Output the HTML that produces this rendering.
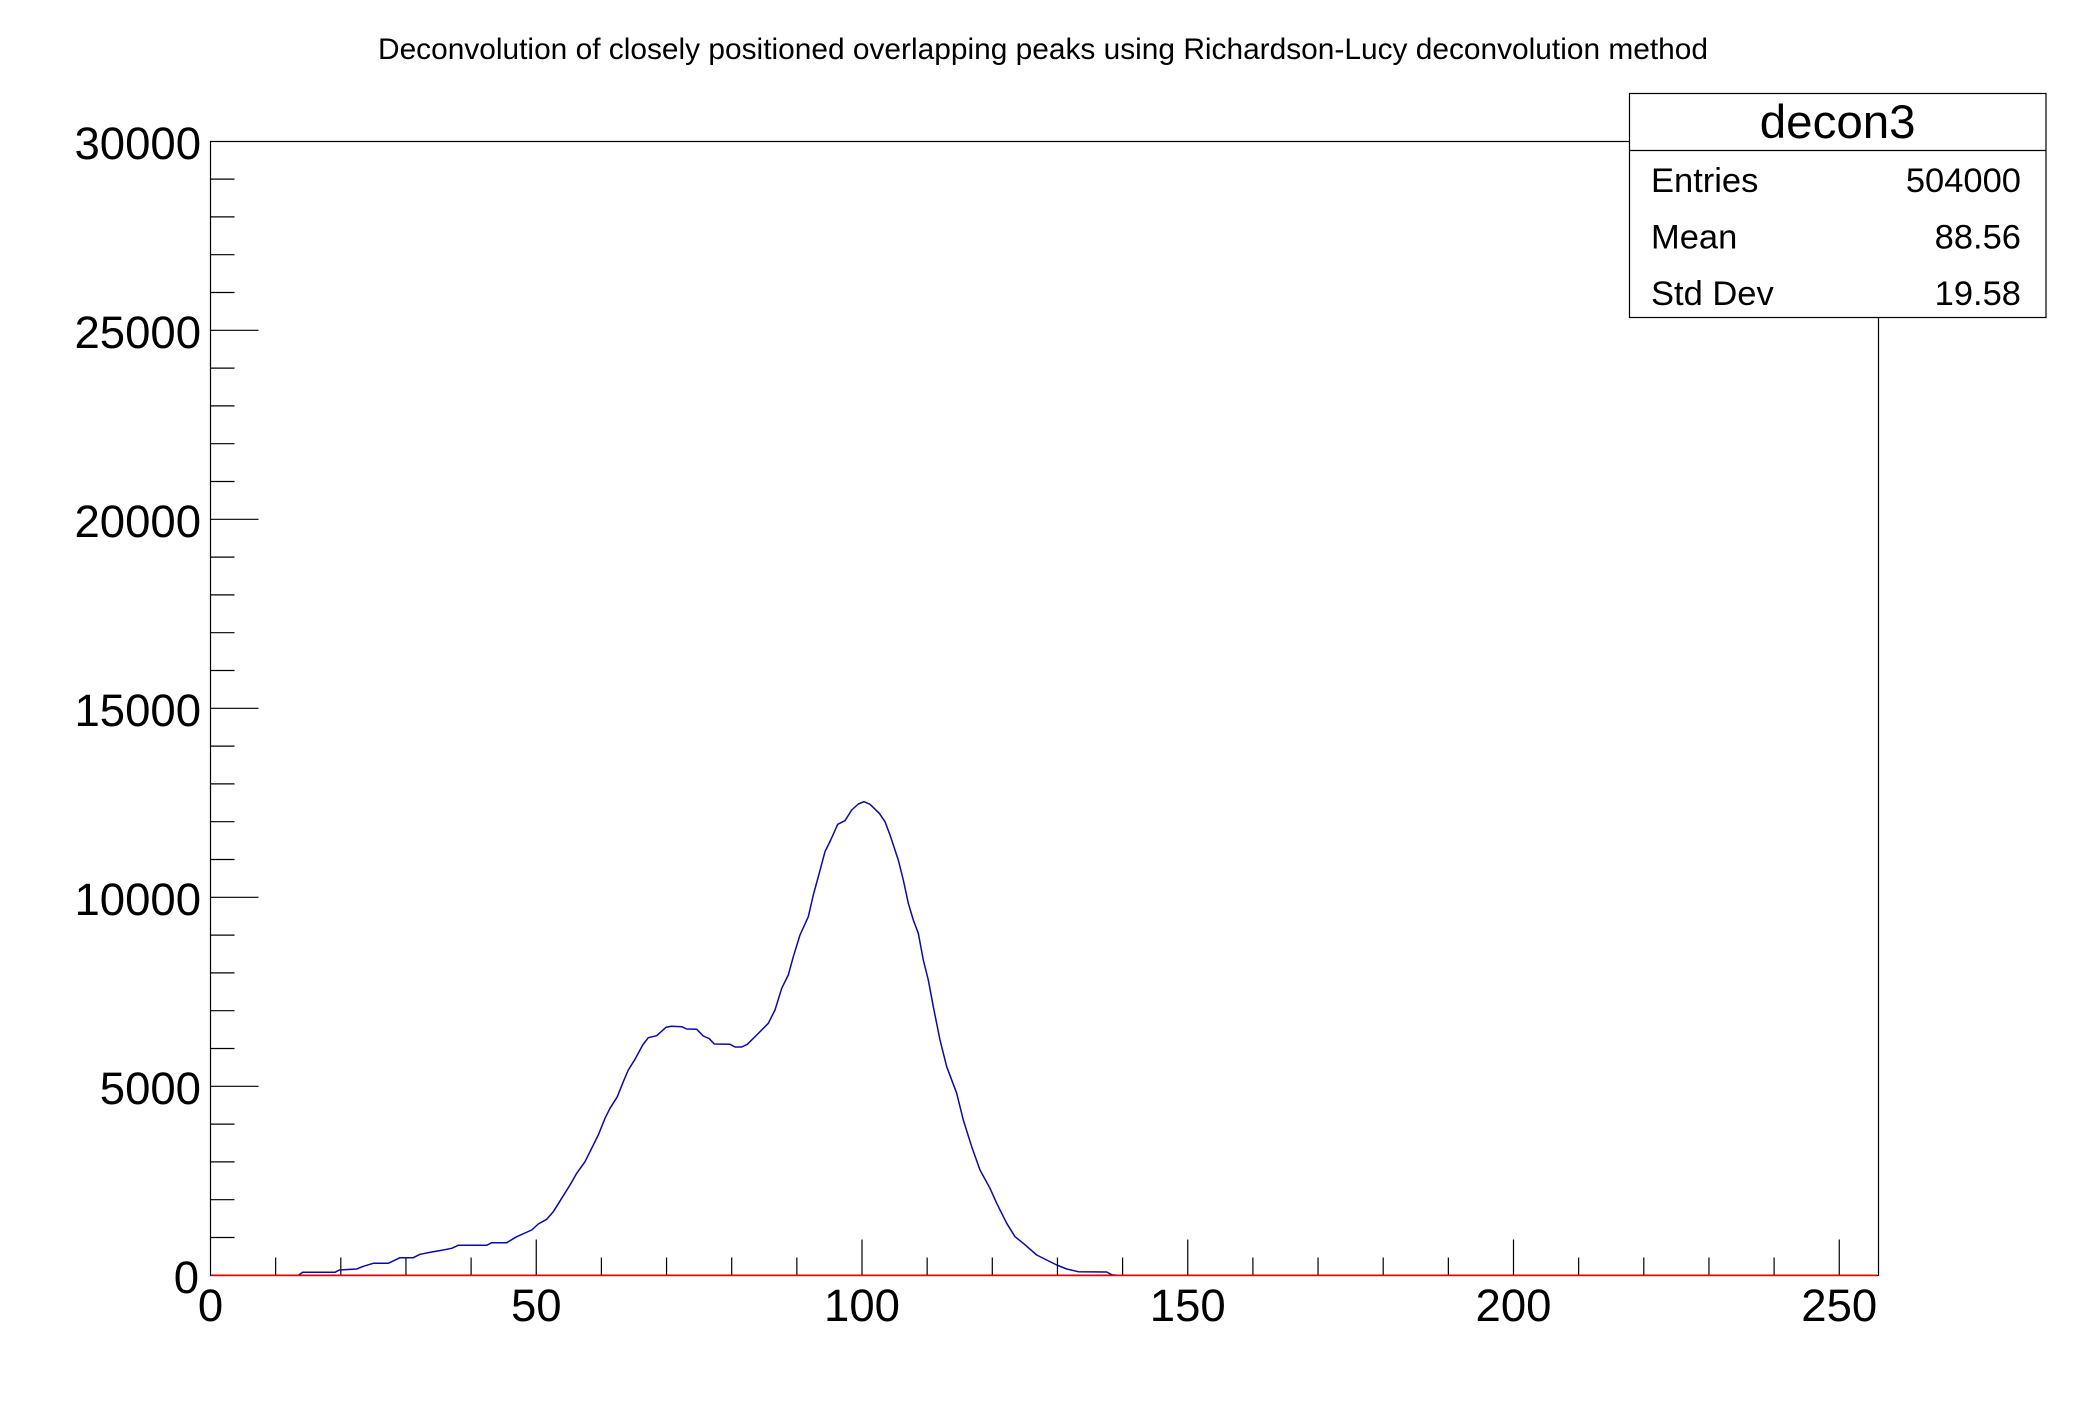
<!DOCTYPE html>
<html>
<head>
<meta charset="utf-8">
<style>
html,body{margin:0;padding:0;background:#fff;}
svg{display:block;}
text{font-family:"Liberation Sans",Arial,Helvetica,sans-serif;fill:#000;}
</style>
</head>
<body>
<svg width="2088" height="1416" viewBox="0 0 2088 1416" xmlns="http://www.w3.org/2000/svg">
<rect x="0" y="0" width="2088" height="1416" fill="#fff"/>

<!-- Title -->
<text x="1043" y="59" font-size="30" text-anchor="middle" textLength="1330" lengthAdjust="spacingAndGlyphs">Deconvolution of closely positioned overlapping peaks using Richardson-Lucy deconvolution method</text>

<!-- Frame -->
<rect x="210.5" y="141.5" width="1668" height="1134" fill="none" stroke="#000" stroke-width="1.2"/>

<!-- Y ticks -->
<g stroke="#000" stroke-width="1.2">
<line x1="210.5" y1="1237.5" x2="234.5" y2="1237.5"/>
<line x1="210.5" y1="1199.7" x2="234.5" y2="1199.7"/>
<line x1="210.5" y1="1161.9" x2="234.5" y2="1161.9"/>
<line x1="210.5" y1="1124.1" x2="234.5" y2="1124.1"/>
<line x1="210.5" y1="1086.3" x2="258.5" y2="1086.3"/>
<line x1="210.5" y1="1048.5" x2="234.5" y2="1048.5"/>
<line x1="210.5" y1="1010.7" x2="234.5" y2="1010.7"/>
<line x1="210.5" y1="972.9" x2="234.5" y2="972.9"/>
<line x1="210.5" y1="935.1" x2="234.5" y2="935.1"/>
<line x1="210.5" y1="897.3" x2="258.5" y2="897.3"/>
<line x1="210.5" y1="859.5" x2="234.5" y2="859.5"/>
<line x1="210.5" y1="821.7" x2="234.5" y2="821.7"/>
<line x1="210.5" y1="783.9" x2="234.5" y2="783.9"/>
<line x1="210.5" y1="746.1" x2="234.5" y2="746.1"/>
<line x1="210.5" y1="708.3" x2="258.5" y2="708.3"/>
<line x1="210.5" y1="670.5" x2="234.5" y2="670.5"/>
<line x1="210.5" y1="632.7" x2="234.5" y2="632.7"/>
<line x1="210.5" y1="594.9" x2="234.5" y2="594.9"/>
<line x1="210.5" y1="557.1" x2="234.5" y2="557.1"/>
<line x1="210.5" y1="519.3" x2="258.5" y2="519.3"/>
<line x1="210.5" y1="481.5" x2="234.5" y2="481.5"/>
<line x1="210.5" y1="443.7" x2="234.5" y2="443.7"/>
<line x1="210.5" y1="405.9" x2="234.5" y2="405.9"/>
<line x1="210.5" y1="368.1" x2="234.5" y2="368.1"/>
<line x1="210.5" y1="330.3" x2="258.5" y2="330.3"/>
<line x1="210.5" y1="292.5" x2="234.5" y2="292.5"/>
<line x1="210.5" y1="254.7" x2="234.5" y2="254.7"/>
<line x1="210.5" y1="216.9" x2="234.5" y2="216.9"/>
<line x1="210.5" y1="179.1" x2="234.5" y2="179.1"/>
</g>

<!-- X ticks -->
<g stroke="#000" stroke-width="1.2">
<line x1="275.65" y1="1275.5" x2="275.65" y2="1257.5"/>
<line x1="340.8" y1="1275.5" x2="340.8" y2="1257.5"/>
<line x1="405.95" y1="1275.5" x2="405.95" y2="1257.5"/>
<line x1="471.1" y1="1275.5" x2="471.1" y2="1257.5"/>
<line x1="536.25" y1="1275.5" x2="536.25" y2="1239.5"/>
<line x1="601.4" y1="1275.5" x2="601.4" y2="1257.5"/>
<line x1="666.55" y1="1275.5" x2="666.55" y2="1257.5"/>
<line x1="731.7" y1="1275.5" x2="731.7" y2="1257.5"/>
<line x1="796.85" y1="1275.5" x2="796.85" y2="1257.5"/>
<line x1="862" y1="1275.5" x2="862" y2="1239.5"/>
<line x1="927.15" y1="1275.5" x2="927.15" y2="1257.5"/>
<line x1="992.3" y1="1275.5" x2="992.3" y2="1257.5"/>
<line x1="1057.45" y1="1275.5" x2="1057.45" y2="1257.5"/>
<line x1="1122.6" y1="1275.5" x2="1122.6" y2="1257.5"/>
<line x1="1187.75" y1="1275.5" x2="1187.75" y2="1239.5"/>
<line x1="1252.9" y1="1275.5" x2="1252.9" y2="1257.5"/>
<line x1="1318.05" y1="1275.5" x2="1318.05" y2="1257.5"/>
<line x1="1383.2" y1="1275.5" x2="1383.2" y2="1257.5"/>
<line x1="1448.35" y1="1275.5" x2="1448.35" y2="1257.5"/>
<line x1="1513.5" y1="1275.5" x2="1513.5" y2="1239.5"/>
<line x1="1578.65" y1="1275.5" x2="1578.65" y2="1257.5"/>
<line x1="1643.8" y1="1275.5" x2="1643.8" y2="1257.5"/>
<line x1="1708.95" y1="1275.5" x2="1708.95" y2="1257.5"/>
<line x1="1774.1" y1="1275.5" x2="1774.1" y2="1257.5"/>
<line x1="1839.25" y1="1275.5" x2="1839.25" y2="1239.5"/>
</g>

<!-- Y labels -->
<g font-size="45.5" text-anchor="end">
<text x="201" y="159">30000</text>
<text x="201" y="348">25000</text>
<text x="201" y="537">20000</text>
<text x="201" y="726">15000</text>
<text x="201" y="915">10000</text>
<text x="201" y="1104">5000</text>
<text x="199" y="1293">0</text>
</g>

<!-- X labels -->
<g font-size="45.5" text-anchor="middle">
<text x="210.5" y="1321">0</text>
<text x="536.25" y="1321">50</text>
<text x="862" y="1321">100</text>
<text x="1187.75" y="1321">150</text>
<text x="1513.5" y="1321">200</text>
<text x="1839.25" y="1321">250</text>
</g>

<!-- Curve -->
<polyline fill="none" stroke="#0a0aa8" stroke-width="1.5" stroke-linejoin="round" points="
210.5,1275.3 298.3,1275.3 302.7,1272.3 335,1272.3 339.3,1270 356.7,1269 363.3,1266.3 373.3,1263.3 388.3,1263.3
400,1257.7 413.3,1257.7 420,1254.3 431.7,1252 443.3,1250 451.7,1248.3 458.3,1245.3 486.7,1245.3 491.7,1242.7
506.7,1242.7 516.7,1236.7 531.7,1230 538.3,1224 546.7,1219.3 553.3,1211.7 561.7,1198.3 570,1185 576.7,1173.3
585,1161.7 598.3,1135 605,1118.3 610,1108.3 617.3,1096.7 623.3,1081.7 628.3,1070 635,1059.3 642.7,1045
648.3,1037.7 656.7,1035.7 666,1027.3 671.7,1026.3 681.7,1026.7 686.7,1029 696.7,1029.3 703.3,1036 709.3,1038.7
714.3,1044 730,1044.3 735,1047 741.7,1047 747.3,1044.3 756.7,1035 768.3,1023.3 775,1010 781.7,988.3 788.3,975
793.3,956.7 800,935 808.3,916.7 813.3,895 818.3,876.7 825,851.7 830.7,840 837.7,824.3 845,820.7 851.7,810
858.3,804 864,801.7 870,804.3 879.3,813.3 885,821.7 890,835 898.3,860 903.3,880 908.3,903.3 913.3,920
918.3,933.3 923.3,960 928.3,980 933.3,1006.7 940,1040 946.7,1066.7 956.7,1093.3 963.3,1120 971.7,1146.7
980,1170 990,1188.3 996.7,1203.3 1006.7,1223.3 1015,1236.7 1023.3,1243.3 1036.7,1255 1056.7,1265 1066.7,1269
1078.3,1271.7 1106.7,1272 1111.7,1274.7 1117,1275.3"/>

<!-- Red baseline -->
<line x1="211" y1="1275.3" x2="1877" y2="1275.3" stroke="#e00000" stroke-width="1.6"/>

<!-- Stats box -->
<rect x="1629.5" y="93.5" width="416.5" height="224" fill="#fff" stroke="#000" stroke-width="1.2"/>
<line x1="1629.5" y1="150.5" x2="2046" y2="150.5" stroke="#000" stroke-width="1.2"/>
<text x="1837.7" y="138" font-size="47.5" text-anchor="middle">decon3</text>
<g font-size="34.5">
<text x="1651" y="192">Entries</text>
<text x="2021" y="192" text-anchor="end">504000</text>
<text x="1651" y="248.5">Mean</text>
<text x="2021" y="248.5" text-anchor="end">88.56</text>
<text x="1651" y="305">Std Dev</text>
<text x="2021" y="305" text-anchor="end">19.58</text>
</g>
</svg>
</body>
</html>
